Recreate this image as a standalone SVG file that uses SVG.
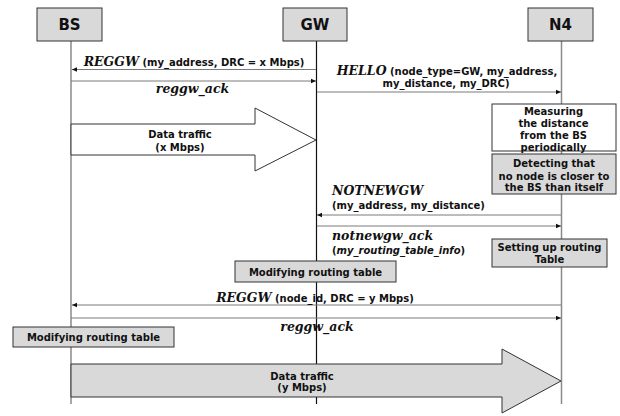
<svg xmlns="http://www.w3.org/2000/svg" width="620" height="416" viewBox="0 0 620 416">
<style>
.lbl{font-family:"DejaVu Sans",Verdana,sans-serif;font-size:10px;font-weight:bold;fill:#111}
.ser{font-family:"DejaVu Serif","Liberation Serif",serif;font-size:12.5px;font-weight:bold;font-style:italic;fill:#111}
.it{font-style:italic}
.title{font-family:"DejaVu Sans",Verdana,sans-serif;font-size:15px;font-weight:bold;fill:#111}
.gbox{fill:#d9d9d9;stroke:#333;stroke-width:1}
.wbox{fill:#fff;stroke:#333;stroke-width:1}
.msg{stroke:#7a7a7a;stroke-width:1;fill:none}
.life{stroke:#8a8a8a;stroke-width:1.5}
</style>
<defs>
<marker id="ah" markerWidth="6" markerHeight="6" refX="5" refY="3" orient="auto" markerUnits="userSpaceOnUse">
<path d="M0,0.8 L5,3 L0,5.2 Z" fill="#111"/>
</marker>
</defs>
<rect width="620" height="416" fill="#fff"/>
<g id="lifelines">
<line class="life" x1="71" y1="41" x2="71" y2="404"/>
<line x1="316.5" y1="41" x2="316.5" y2="404" stroke="#111" stroke-width="1.2"/>
<line class="life" x1="561.5" y1="41" x2="561.5" y2="404"/>
</g>
<g id="node-BS">
<rect class="gbox" x="37" y="8" width="65" height="33"/>
<text class="title" x="69.5" y="30" text-anchor="middle">BS</text>
</g>
<g id="node-GW">
<rect class="gbox" x="283" y="8" width="64" height="33"/>
<text class="title" x="315" y="30" text-anchor="middle">GW</text>
</g>
<g id="node-N4">
<rect class="gbox" x="528" y="8" width="65" height="33"/>
<text class="title" x="560.5" y="30" text-anchor="middle">N4</text>
</g>
<g id="connectors">
<line class="msg" x1="316" y1="69.5" x2="72" y2="69.5" marker-end="url(#ah)"/>
<line class="msg" x1="71" y1="81" x2="316" y2="81" marker-end="url(#ah)"/>
<line class="msg" x1="317" y1="92" x2="561" y2="92" marker-end="url(#ah)"/>
<line class="msg" x1="561" y1="215" x2="317" y2="215" marker-end="url(#ah)"/>
<line class="msg" x1="317" y1="226" x2="561" y2="226" marker-end="url(#ah)"/>
<line class="msg" x1="561" y1="305" x2="72" y2="305" marker-end="url(#ah)"/>
<line class="msg" x1="71" y1="318" x2="561" y2="318" marker-end="url(#ah)"/>
</g>
<g id="labels">
<text x="194" y="66" text-anchor="middle"><tspan class="ser">REGGW</tspan><tspan class="lbl"> (my_address, DRC = x Mbps)</tspan></text>
<text class="ser" x="192.5" y="93" text-anchor="middle">reggw_ack</text>
<text x="447" y="75" text-anchor="middle"><tspan class="ser">HELLO</tspan><tspan class="lbl"> (node_type=GW, my_address,</tspan></text>
<text class="lbl" x="446" y="87" text-anchor="middle">my_distance, my_DRC)</text>
<text class="ser" x="332" y="195">NOTNEWGW</text>
<text class="lbl" x="332" y="208.5">(my_address, my_distance)</text>
<text class="ser" x="332" y="239.5">notnewgw_ack</text>
<text class="lbl" x="332" y="253.5">(<tspan class="it">my_routing_table_info</tspan>)</text>
<text x="315" y="301.5" text-anchor="middle"><tspan class="ser">REGGW</tspan><tspan class="lbl"> (node_id, DRC = y Mbps)</tspan></text>
<text class="ser" x="317" y="331" text-anchor="middle">reggw_ack</text>
</g>
<g id="measuring">
<rect class="wbox" x="492" y="104" width="124" height="47"/>
<text class="lbl" x="553.5" y="114.5" text-anchor="middle">Measuring</text>
<text class="lbl" x="553.5" y="126.5" text-anchor="middle">the distance</text>
<text class="lbl" x="553.5" y="138.5" text-anchor="middle">from the BS</text>
<text class="lbl" x="553.5" y="150.5" text-anchor="middle">periodically</text>
</g>
<g id="detecting">
<rect class="gbox" x="492" y="154" width="124" height="40"/>
<text class="lbl" x="554" y="167" text-anchor="middle">Detecting that</text>
<text class="lbl" x="554" y="179.5" text-anchor="middle">no node is closer to</text>
<text class="lbl" x="554" y="191" text-anchor="middle">the BS than itself</text>
</g>
<g id="data-x">
<polygon class="wbox" points="71,124 255,124 255,108 316,140 255,171 255,155 71,155"/>
<text class="lbl" x="180" y="138" text-anchor="middle">Data traffic</text>
<text class="lbl" x="180" y="151" text-anchor="middle">(x Mbps)</text>
</g>
<g id="setting-up">
<rect class="gbox" x="492" y="239" width="115" height="28"/>
<text class="lbl" x="549.5" y="250.5" text-anchor="middle">Setting up routing</text>
<text class="lbl" x="549.5" y="262.5" text-anchor="middle">Table</text>
</g>
<g id="modify-gw">
<rect class="gbox" x="235" y="261" width="161" height="21"/>
<text class="lbl" x="315.5" y="275.5" text-anchor="middle">Modifying routing table</text>
</g>
<g id="modify-bs">
<rect class="gbox" x="13" y="327" width="161" height="20"/>
<text class="lbl" x="93.5" y="340.5" text-anchor="middle">Modifying routing table</text>
</g>
<g id="data-y">
<polygon class="gbox" points="71,364 502,364 502,349 561,381 502,413 502,397 71,397"/>
<text class="lbl" x="302" y="380" text-anchor="middle">Data traffic</text>
<text class="lbl" x="302" y="391" text-anchor="middle">(y Mbps)</text>
</g>
</svg>
